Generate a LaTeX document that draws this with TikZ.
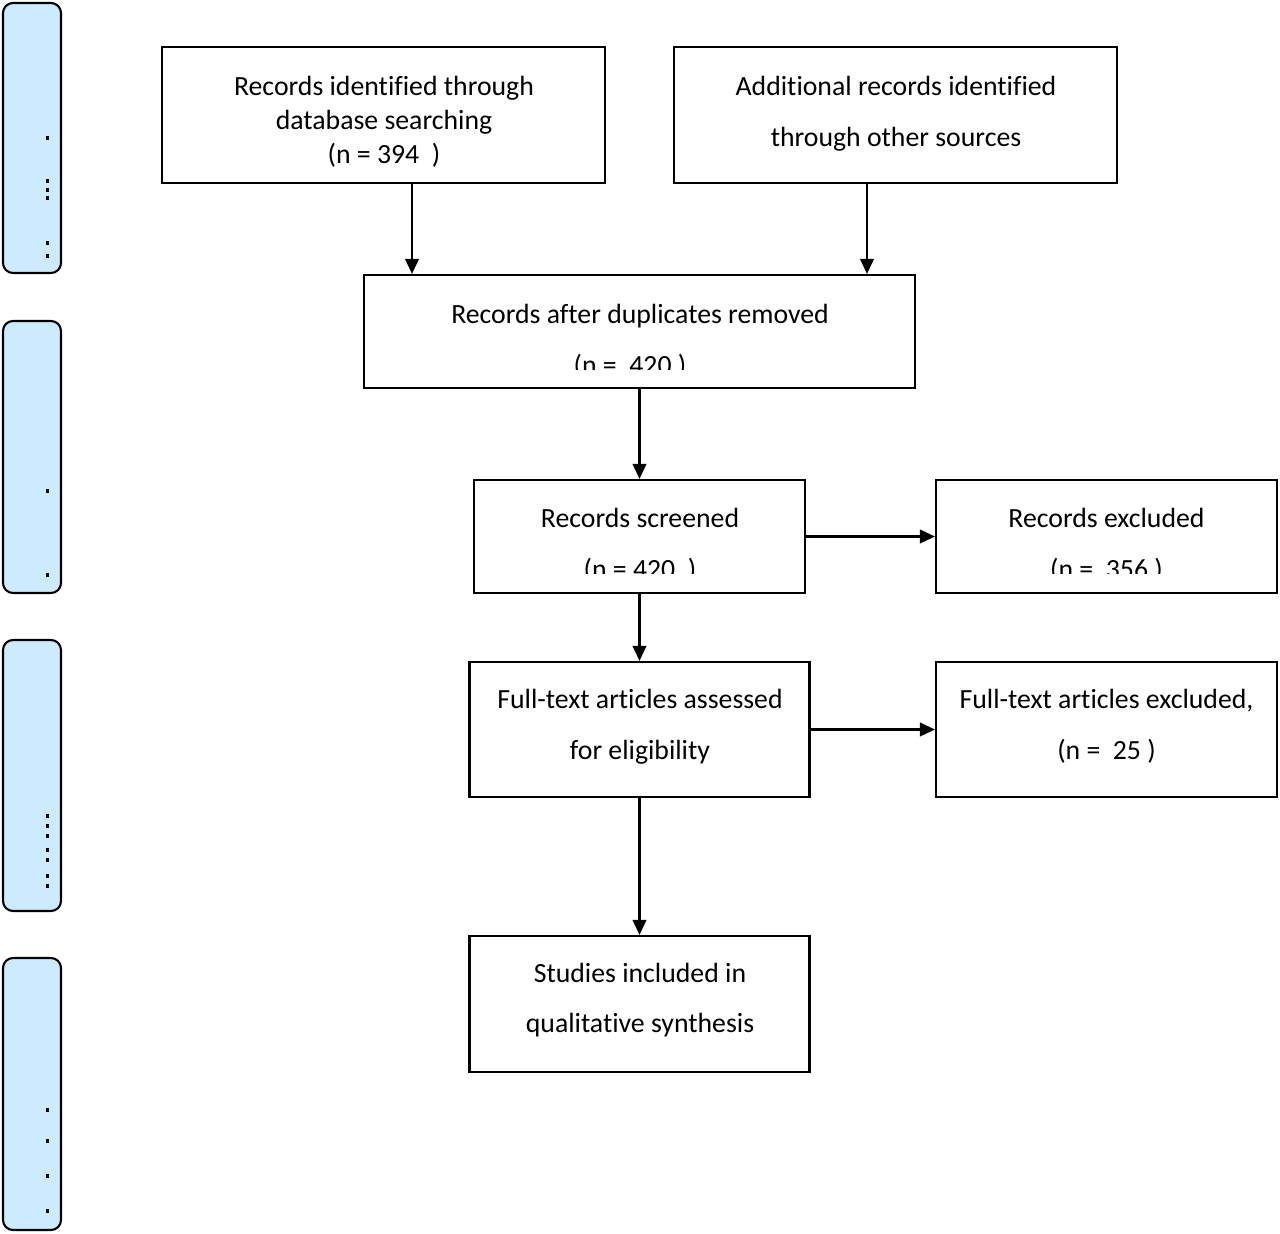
\documentclass[tikz,border=0pt]{standalone}
\usepackage{fontspec}
\setmainfont[Ligatures={NoCommon}]{Carlito}
\usetikzlibrary{arrows.meta}
\definecolor{sidebar}{RGB}{204,235,255}
\begin{document}
\begin{tikzpicture}[
    box/.style={draw, line width=1.2pt, inner sep=0pt},
    txt/.style={anchor=base, inner sep=0pt, font=\fontsize{15.8}{18}\selectfont},
    side/.style={draw, line width=1.2pt, fill=sidebar, rounded corners=0.2cm},
    arr/.style={line width=1.3pt, -{Triangle[length=0.3cm, width=0.27cm]}}
]
\useasboundingbox (0,0) rectangle (25.6,24.68);

\draw[side] (0.06,19.22) rectangle (1.22,24.62);
\draw[side] (0.06,12.82) rectangle (1.22,18.26);
\draw[side] (0.06,6.46) rectangle (1.22,11.88);
\draw[side] (0.06,0.08) rectangle (1.22,5.52);
\foreach \y in {21.88,21.02,20.84,20.68,19.78,19.52,14.82,13.14,8.32,8.12,7.92,7.64,7.44,7.12,6.92,2.44,1.82,1.12,0.42}
  \fill (0.91,\y) rectangle ++(0.06,0.08);

\node[box, minimum width=8.86cm, minimum height=2.72cm] (srch) at (7.67,22.38) {};
\node[box, minimum width=8.86cm, minimum height=2.72cm] (othr) at (17.91,22.38) {};
\node[box, minimum width=11.02cm, minimum height=2.26cm] (dup) at (12.79,18.05) {};
\node[box, minimum width=6.62cm, minimum height=2.26cm] (scr) at (12.79,13.95) {};
\node[box, minimum width=6.82cm, minimum height=2.26cm] (excl) at (22.13,13.95) {};
\node[box, minimum width=6.80cm, minimum height=2.70cm] (full) at (12.79,10.09) {};
\node[box, minimum width=6.82cm, minimum height=2.70cm] (ftex) at (22.13,10.09) {};
\node[box, minimum width=6.80cm, minimum height=2.72cm] (incl) at (12.79,4.60) {};

\node[txt] (srch1) at (7.68,22.77) {Records identified through};
\node[txt] (srch2) at (7.68,22.09) {database searching};
\node[txt] (srch3) at (7.68,21.41) {(n = 394\ \ )};

\node[txt] (othr1) at (17.92,22.77) {Additional records identified};
\node[txt] (othr2) at (17.92,21.75) {through other sources};

\node[txt] (dup1) at (12.80,18.21) {Records after duplicates removed};
\node[txt] (scr1) at (12.80,14.13) {Records screened};
\node[txt] (excl1) at (22.13,14.13) {Records excluded};

\begin{scope}
\clip (7.4,17.29) rectangle (18.2,18.0);
\node[txt] (dup2) at (12.60,17.19) {(n =\ \ 420 )};
\end{scope}
\begin{scope}
\clip (9.6,13.20) rectangle (25.4,13.9);
\node[txt] (scr2) at (12.80,13.10) {(n = 420\ \ )};
\node[txt] (excl2) at (22.13,13.10) {(n =\ \ 356 )};
\end{scope}

\node[txt] (full1) at (12.80,10.51) {Full-text articles assessed};
\node[txt] (full2) at (12.80,9.49) {for eligibility};
\node[txt] (ftex1) at (22.13,10.51) {Full-text articles excluded,};
\node[txt] (ftex2) at (22.13,9.49) {(n =\ \ 25 )};

\node[txt] (incl1) at (12.80,5.03) {Studies included in};
\node[txt] (incl2) at (12.80,4.02) {qualitative synthesis};

\coordinate (a1) at (8.24,0);
\coordinate (a2) at (17.34,0);
\draw[arr] (a1 |- srch.south) -- (a1 |- dup.north);
\draw[arr] (a2 |- othr.south) -- (a2 |- dup.north);
\draw[arr] (dup.south) -- (scr.north);
\draw[arr] (scr.east) -- (excl.west);
\draw[arr] (scr.south) -- (full.north);
\draw[arr] (full.east) -- (ftex.west);
\draw[arr] (full.south) -- (incl.north);

\end{tikzpicture}
\end{document}
